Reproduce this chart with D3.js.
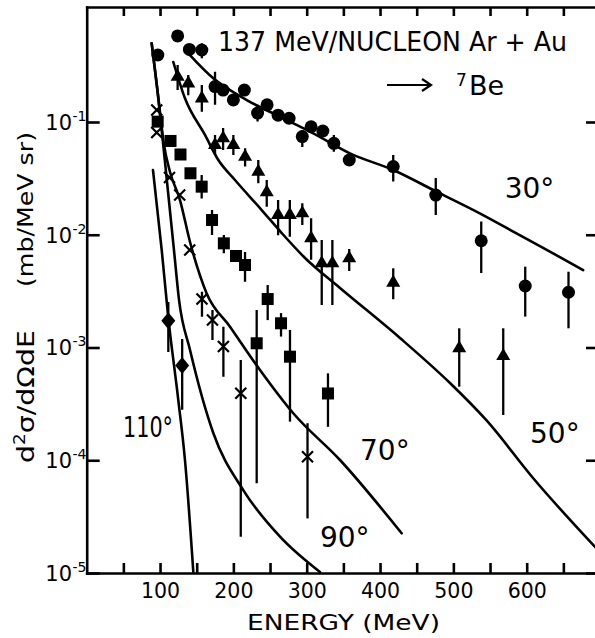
<!DOCTYPE html>
<html><head><meta charset="utf-8">
<script src="https://cdn.jsdelivr.net/npm/d3@7"></script>
<style>
body{margin:0;background:#fff}
svg{display:block}
text{font-family:"DejaVu Sans",sans-serif;fill:#000}
</style>
</head><body>
<svg id="chart" width="595" height="638"></svg>
<script>
// ---- data (energy in MeV, cross section in mb/MeV sr) ----
const e30  = [97,124,140,157,175,186,200,215,233,246,261,276,294,306,322,337,358,418,476,538,598,657];
const y30  = [0.393,0.58,0.44,0.435,0.206,0.192,0.157,0.192,0.120,0.142,0.115,0.108,0.0743,0.0908,0.0832,0.0647,0.046,0.0402,0.0225,0.00885,0.00351,0.00309];
const lo30 = [null,null,null,0.367,0.142,null,null,null,0.101,null,null,null,0.060,null,null,0.0546,null,0.0296,0.015,0.00458,0.00188,0.00148];
const hi30 = [null,null,null,0.499,0.279,null,null,null,0.142,null,null,null,0.085,null,null,0.0767,null,0.0509,0.0318,0.0131,0.00521,0.0047];

const e50  = [124,138.5,157,175,186,200,216,234,245.5,261,277,294,306,320.5,335,358,418,508,568];
const y50  = [0.252,0.220,0.162,0.0625,0.0717,0.0625,0.0492,0.0362,0.0238,0.0150,0.0150,0.0155,0.00931,0.00559,0.00559,0.00618,0.00376,0.000984,0.000841];
const lo50 = [0.192,0.173,0.123,0.051,0.0565,0.051,0.0402,0.0286,0.0177,0.0099,0.0096,0.0122,0.0060,0.00238,0.00238,0.00477,0.00268,0.000449,0.000252];
const hi50 = [0.320,0.261,0.213,0.0767,0.0885,0.0767,0.0585,0.046,0.0306,0.0203,0.0203,0.019,0.014,0.00898,0.00898,0.00747,0.00504,0.00148,0.00148];

const e70  = [96.8,114.3,127.9,141.5,156.8,170.9,187,203.6,215.9,231.8,246.8,265,277.2,329];
const y70  = [0.1007,0.0679,0.0515,0.0351,0.0267,0.01351,0.00839,0.00648,0.00539,0.00109,0.00269,0.00164,0.000829,0.000391];
const lo70 = [null,null,null,null,0.021,0.00995,0.00685,null,0.00383,0.0000625,0.00175,0.00125,0.00022,0.000198];
const hi70 = [null,null,null,null,0.0339,0.01657,0.00995,null,0.00703,0.00215,0.00358,0.00202,0.00143,0.00059];

const e90  = [95.5,95.5,112.9,126.8,140.5,157.2,171.5,186.4,210.1,301.1];
const y90  = [0.1278,0.0807,0.0322,0.02252,0.00732,0.00269,0.001754,0.001021,0.000393,0.0001075];
const lo90 = [null,null,null,null,null,0.001875,0.001165,0.000551,0.000021,0.0000305];
const hi90 = [null,null,null,null,null,0.00313,0.00215,0.00153,0.000774,0.000213];

const e110  = [111.3,130.2];
const y110  = [0.001725,0.000692];
const lo110 = [0.000912,0.00028];
const hi110 = [0.00253,0.00119];

// theoretical curves
const c30E = [138.5,172.6,218.2,263.6,309,359,418,477,536,586,636,677];
const c30Y = [0.406,0.244,0.1567,0.1114,0.0794,0.0527,0.0375,0.0241,0.01549,0.0103,0.00684,0.00486];
const c50E = [118.1,134,161.3,179.5,202.2,238.6,265.9,297.7,345.4,427.2,495.4,545.9,608.6,693.3];
const c50Y = [0.3405,0.1622,0.0767,0.046,0.0306,0.01657,0.01036,0.00622,0.003372,0.001214,0.000484,0.000223,0.0000696,0.0000170];
const c70E = [88.6,97.2,105.4,113.6,127.2,140.9,163.6,195.4,236.3,281.7,345.4,429.5];
const c70Y = [0.499,0.1736,0.0625,0.036,0.0203,0.00862,0.00302,0.00153,0.000632,0.000261,0.0001005,0.0000225];
const c90E = [88.6,97.2,106.5,119,125.9,140.9,172.6,213.5,263.6,318.1];
const c90Y = [0.499,0.1736,0.046,0.00732,0.00264,0.00095,0.0001745,0.0000544,0.000021,0.0000102];
const c110E = [90.4,102.3,110.9,124.9,134,145.4];
const c110Y = [0.0375,0.00732,0.00194,0.000342,0.0001005,0.0000102];

// ticks and labels
const xTicks = [50,100,150,200,250,300,350,400,450,500,550,600,650];
const yTicks = [1e-1,1e-2,1e-3,1e-4,1e-5];
const yTickExp = ["-1","-2","-3","-4","-5"];
const angleLabels = ["30°","50°","70°","90°","110°"];
const angleLabelE = [570,604.5,372.7,318.1,49.5];
const angleLabelY = [0.0212,0.000142,0.0001005,0.0000170,0.0001607];

// ---- drawing ----
const svg = d3.select("#chart");
const L = 86.7, R = 596, T = 7, B = 573;
const x = d3.scaleLinear().domain([0,694.5]).range([L,R]);
const y = d3.scaleLog().domain([1e-5,1.047]).range([B,T]);

svg.append("clipPath").attr("id","clip").append("rect")
  .attr("x",L).attr("y",T).attr("width",R-L).attr("height",B-T);

const axW = 2.6;
function styleAxis(g){ g.selectAll("path,line").attr("stroke","#000").attr("stroke-width",axW); g.select(".domain").attr("stroke-linecap","square"); }

svg.append("g").attr("transform",`translate(0,${B})`)
  .call(d3.axisBottom(x).tickValues(xTicks).tickSizeInner(-10).tickSizeOuter(0).tickPadding(10)
    .tickFormat(d => d % 100 === 0 ? d : ""))
  .call(styleAxis)
  .call(g => g.selectAll("text").attr("font-size",20.5).attr("font-family","DejaVu Sans").attr("fill","#000"));
svg.append("g").attr("transform",`translate(0,${T})`)
  .call(d3.axisBottom(x).tickValues(xTicks).tickSizeInner(9).tickSizeOuter(0).tickFormat(""))
  .call(styleAxis);
svg.append("g").attr("transform",`translate(${L},0)`)
  .call(d3.axisRight(y).tickValues(yTicks).tickSizeInner(13).tickSizeOuter(0).tickFormat(""))
  .call(styleAxis);
svg.append("g").attr("transform",`translate(${R},0)`)
  .call(d3.axisLeft(y).tickValues(yTicks).tickSizeInner(10).tickSizeOuter(0).tickFormat(""))
  .call(styleAxis);

// y tick labels 10^-n
yTicks.forEach((t,i) => {
  svg.append("text").attr("x",72).attr("y",y(t)+8).attr("text-anchor","end")
    .attr("font-size",21).text("10");
  svg.append("text").attr("x",72.5).attr("y",y(t)-1).attr("text-anchor","start")
    .attr("font-size",14).text(yTickExp[i]);
});

// axis titles
svg.append("text").attr("x",247).attr("y",630).attr("text-anchor","start")
  .attr("font-size",22).attr("textLength",193).attr("lengthAdjust","spacingAndGlyphs")
  .text("ENERGY (MeV)");
const yl1 = svg.append("text").attr("transform","translate(34,463) rotate(-90)")
  .attr("font-size",23).attr("textLength",133).attr("lengthAdjust","spacingAndGlyphs");
yl1.append("tspan").text("d");
yl1.append("tspan").attr("dy",-9).attr("font-size",15).text("2");
yl1.append("tspan").attr("dy",9).text("σ/dΩdE");
svg.append("text").attr("transform","translate(33,287) rotate(-90)")
  .attr("font-size",22).attr("textLength",155).attr("lengthAdjust","spacingAndGlyphs")
  .text("(mb/MeV sr)");

// curves
const plot = svg.append("g").attr("clip-path","url(#clip)");
const line = d3.line().x(d => x(d[0])).y(d => y(d[1])).curve(d3.curveMonotoneX);
[[c30E,c30Y],[c50E,c50Y],[c70E,c70Y],[c90E,c90Y],[c110E,c110Y]].forEach(([E,Y]) => {
  plot.append("path").datum(E.map((e,i)=>[e,Y[i]])).attr("d",line)
    .attr("fill","none").attr("stroke","#000").attr("stroke-width",2.6).attr("stroke-linecap","round");
});

// data points
const series = [
  {E:e30,Y:y30,lo:lo30,hi:hi30,sym:"circle"},
  {E:e50,Y:y50,lo:lo50,hi:hi50,sym:"triangle"},
  {E:e70,Y:y70,lo:lo70,hi:hi70,sym:"square"},
  {E:e90,Y:y90,lo:lo90,hi:hi90,sym:"cross"},
  {E:e110,Y:y110,lo:lo110,hi:hi110,sym:"diamond"}
];
const tri = d3.symbol(d3.symbolTriangle, 85)();
series.forEach(s => {
  s.E.forEach((e,i) => {
    const px = x(e), py = y(s.Y[i]);
    if (s.lo[i] != null) {
      plot.append("line").attr("x1",px).attr("x2",px).attr("y1",y(s.lo[i])).attr("y2",y(s.hi[i]))
        .attr("stroke","#000").attr("stroke-width",2.3);
    }
    const g = plot.append("g").attr("transform",`translate(${px},${py})`);
    if (s.sym === "circle") g.append("circle").attr("r",6.5).attr("fill","#000");
    else if (s.sym === "triangle") g.append("path").attr("d",tri).attr("fill","#000");
    else if (s.sym === "square") g.append("rect").attr("x",-6).attr("y",-6).attr("width",12).attr("height",12).attr("fill","#000");
    else if (s.sym === "diamond") g.append("path").attr("d","M0,-8.5L7,0L0,8.5L-7,0Z").attr("fill","#000");
    else if (s.sym === "cross") g.append("path").attr("d","M-5.5,-5.5L5.5,5.5M-5.5,5.5L5.5,-5.5")
      .attr("stroke","#000").attr("stroke-width",2.2).attr("fill","none");
  });
});

// angle labels
angleLabels.forEach((t,i) => {
  const el = svg.append("text").attr("x",x(angleLabelE[i])).attr("y",y(angleLabelY[i]))
    .attr("font-size",28).text(t);
  if (t === "110°") el.attr("textLength",50).attr("lengthAdjust","spacingAndGlyphs");
});

// title
svg.append("text").attr("x",218).attr("y",51).attr("font-size",27)
  .attr("textLength",349).attr("lengthAdjust","spacingAndGlyphs")
  .text("137 MeV/NUCLEON Ar + Au");
svg.append("path").attr("d","M387,85H430M422,79L431,85L422,91")
  .attr("fill","none").attr("stroke","#000").attr("stroke-width",2.2);
svg.append("text").attr("x",456).attr("y",86).attr("font-size",17).text("7");
svg.append("text").attr("x",469).attr("y",95).attr("font-size",27).text("Be");
</script>
</body></html>
